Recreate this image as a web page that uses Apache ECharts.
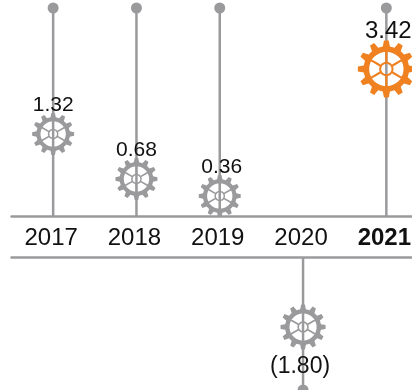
<!DOCTYPE html>
<html><head><meta charset="utf-8">
<style>html,body{margin:0;padding:0;background:#fff}#c{width:412px;height:390px}</style>
<script src="https://cdn.jsdelivr.net/npm/echarts@6/dist/echarts.min.js"></script>
</head><body><div id="c"></div>
<script>
const categories = ['2017','2018','2019','2020','2021'];
const values = [1.32, 0.68, 0.36, -1.80, 3.42];
const valueLabels = ['1.32','0.68','0.36','(1.80)','3.42'];
// the gears are not placed on a linear scale of the values
const upperGearLevels = [82, 37, 20, null, 147];
const lowerGearLevels = [null, null, null, -70, null];
const upperStemTops = [208, 208, 208, null, 208];
const lowerStemEnds = [null, null, null, -133, null];

const GREY = '#9a9a9d', ORANGE = '#ef8121';

function gearPath() {
  const teeth = 12, rRoot = 0.80, rTip = 1, rIn = 0.60, rHub = 0.25, rHubIn = 0.18, sw = 0.04;
  const pt = (r, a) => (r * Math.cos(a)).toFixed(4) + ' ' + (r * Math.sin(a)).toFixed(4);
  let d = '';
  const step = Math.PI * 2 / teeth;
  const pts = [];
  for (let i = 0; i < teeth; i++) {
    const a = i * step - Math.PI / 2;
    pts.push(pt(rRoot, a - step * 0.30), pt(rTip, a - step * 0.16), pt(rTip, a + step * 0.16), pt(rRoot, a + step * 0.30));
  }
  d += 'M' + pts.join(' L') + ' Z ';
  const circle = (r, rev) => {
    const c = [];
    for (let i = 0; i < 48; i++) c.push(pt(r, (rev ? -1 : 1) * i * Math.PI / 24));
    return 'M' + c.join(' L') + ' Z ';
  };
  d += circle(rIn, true);
  d += circle(rHub, false) + circle(rHubIn, true);
  for (let i = 0; i < 6; i++) {
    const a = Math.PI / 6 + i * Math.PI / 3, n = a + Math.PI / 2;
    const p = (r, s) => (r * Math.cos(a) + s * sw * Math.cos(n)).toFixed(4) + ' ' + (r * Math.sin(a) + s * sw * Math.sin(n)).toFixed(4);
    d += 'M' + [p(rHub, -1), p(rIn + .02, -1), p(rIn + .02, 1), p(rHub, 1)].join(' L') + ' Z ';
  }
  return 'path://' + d;
}
const gear = gearPath();

const LEFT = 11.5, WIDTH = 416.5;
const chart = echarts.init(document.getElementById('c'), null, {renderer: 'canvas'});
const stem = (data, xi, yi) => ({
  type: 'bar', data, xAxisIndex: xi, yAxisIndex: yi, barWidth: 2.5, silent: true,
  itemStyle: {color: GREY}, z: 2, animation: false
});
const dots = (data, xi, yi) => ({
  type: 'scatter', data, xAxisIndex: xi, yAxisIndex: yi, symbol: 'circle', symbolSize: 11,
  itemStyle: {color: GREY, opacity: 1}, z: 3, animation: false, clip: false
});
const labelNudgeX = [0, 0, 2, -3, 2];
const gearItem = (v, i) => v == null ? null : {
  value: v,
  symbolSize: i === 4 ? 57 : (i === 3 ? 45 : 42),
  itemStyle: {color: i === 4 ? ORANGE : GREY, opacity: 1},
  label: {
    show: true,
    position: i === 3 ? 'bottom' : 'top',
    distance: i === 3 ? 6 : -3,
    offset: [labelNudgeX[i], 0],
    formatter: valueLabels[i],
    fontFamily: 'Liberation Sans', fontSize: i === 3 ? 23 : (i === 4 ? 24 : 21), color: '#111'
  }
};
const gears = (arr, xi, yi) => ({
  type: 'scatter', data: arr.map(gearItem), xAxisIndex: xi, yAxisIndex: yi,
  symbol: gear, symbolKeepAspect: true, z: 4, animation: false, clip: false
});
chart.setOption({
  animation: false,
  backgroundColor: '#fff',
  grid: [
    {left: LEFT, width: WIDTH, top: 8, height: 208, outerBoundsMode: 'none'},
    {left: LEFT, width: WIDTH, top: 257, height: 133, outerBoundsMode: 'none'}
  ],
  xAxis: [
    {gridIndex: 0, type: 'category', data: categories, position: 'bottom',
     axisTick: {show: false},
     axisLine: {onZero: false, lineStyle: {color: GREY, width: 2.5}},
     axisLabel: {interval: 0, hideOverlap: false, margin: 10, fontFamily: 'Liberation Sans', fontSize: 24, color: '#111',
       padding: [0, 4, 0, 0],
       formatter: v => v === '2021' ? '{b|' + v + '}' : v,
       rich: {b: {fontWeight: 'bold', fontSize: 24, fontFamily: 'Liberation Sans', color: '#111'}}}},
    {gridIndex: 1, type: 'category', data: categories, position: 'top',
     axisTick: {show: false}, axisLabel: {show: false},
     axisLine: {onZero: false, lineStyle: {color: GREY, width: 2.5}}}
  ],
  yAxis: [
    {gridIndex: 0, type: 'value', min: 0, max: 208, show: false},
    {gridIndex: 1, type: 'value', min: -133, max: 0, show: false}
  ],
  series: [
    stem(upperStemTops, 0, 0), stem(lowerStemEnds, 1, 1),
    dots(upperStemTops, 0, 0), dots(lowerStemEnds, 1, 1),
    gears(upperGearLevels, 0, 0), gears(lowerGearLevels, 1, 1)
  ]
});
</script></body></html>
